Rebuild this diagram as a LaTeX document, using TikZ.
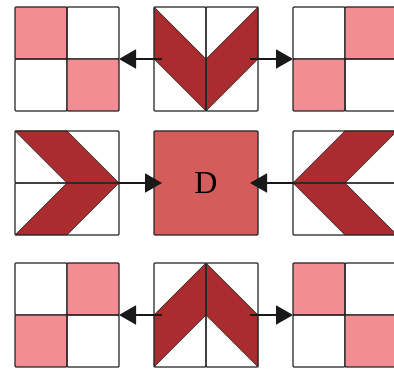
\documentclass[tikz,border=0pt]{standalone}
\usepackage{fontspec}
\setmainfont{Liberation Serif}
\usetikzlibrary{arrows.meta}
\definecolor{lpink}{RGB}{242,141,147}
\definecolor{dred}{RGB}{170,44,46}
\definecolor{dfill}{RGB}{212,92,91}
\begin{document}
\begin{tikzpicture}[x=1pt,y=-1pt]
					\tikzstyle{cell}=[rectangle,draw=black!85,line width=1.2pt,rounded corners=1pt,inner sep=0pt,outer sep=0pt,minimum width=52pt,minimum height=52pt]
					\tikzstyle{tall}=[cell,minimum height=104pt]
					\tikzstyle{wide}=[cell,minimum width=104pt]
					\tikzstyle{band}=[fill=dred,draw=black!80,line width=0.5pt]
					\tikzstyle{arr}=[draw=black!90,line width=1.6pt,-{Triangle[length=17pt,width=19pt]}]
					\useasboundingbox (0,0) rectangle (394,371);
					% chevron bands
					\draw[band] (154,7) -- (206,59) -- (206,111) -- (154,59) -- cycle;
					\draw[band] (258,7) -- (206,59) -- (206,111) -- (258,59) -- cycle;
					\draw[band] (15,131) -- (67,131) -- (119,183) -- (67,183) -- cycle;
					\draw[band] (67,183) -- (119,183) -- (67,235) -- (15,235) -- cycle;
					\draw[band] (345,131) -- (397,131) -- (345,183) -- (293,183) -- cycle;
					\draw[band] (293,183) -- (345,183) -- (397,235) -- (345,235) -- cycle;
					\draw[band] (154,315) -- (206,263) -- (206,315) -- (154,367) -- cycle;
					\draw[band] (258,315) -- (206,263) -- (206,315) -- (258,367) -- cycle;
					% top row
					\node[cell,fill=lpink] (1) at (41,33) {};
					\node[cell] (2) at (93,33) {};
					\node[cell] (3) at (41,85) {};
					\node[cell,fill=lpink] (4) at (93,85) {};
					\node[tall] (5) at (180,59) {};
					\node[tall] (6) at (232,59) {};
					\node[cell] (7) at (319,33) {};
					\node[cell,fill=lpink] (8) at (371,33) {};
					\node[cell,fill=lpink] (9) at (319,85) {};
					\node[cell] (10) at (371,85) {};
					% middle row
					\node[wide] (11) at (67,157) {};
					\node[wide] (12) at (67,209) {};
					\node[cell,fill=dfill,minimum width=104pt,minimum height=104pt,font=\fontsize{32}{32}\selectfont] (13) at (206,183) {D};
					\node[wide] (14) at (345,157) {};
					\node[wide] (15) at (345,209) {};
					% bottom row
					\node[cell] (16) at (41,289) {};
					\node[cell,fill=lpink] (17) at (93,289) {};
					\node[cell,fill=lpink] (18) at (41,341) {};
					\node[cell] (19) at (93,341) {};
					\node[tall] (20) at (180,315) {};
					\node[tall] (21) at (232,315) {};
					\node[cell,fill=lpink] (22) at (319,289) {};
					\node[cell] (23) at (371,289) {};
					\node[cell] (24) at (319,341) {};
					\node[cell,fill=lpink] (25) at (371,341) {};
					% arrows
					\coordinate (a1) at ([xshift=8pt]5.west);
					\coordinate (a2) at ([xshift=-8pt]6.east);
					\coordinate (a3) at ([xshift=8pt]13.west);
					\coordinate (a4) at ([xshift=-8pt]13.east);
					\coordinate (a5) at ([xshift=8pt]20.west);
					\coordinate (a6) at ([xshift=-8pt]21.east);
					\draw[arr] (a1) -- (2.south east);
					\draw[arr] (a2) -- (7.south west);
					\draw[arr] (11.south east) -- (a3);
					\draw[arr] (14.south west) -- (a4);
					\draw[arr] (a5) -- (17.south east);
					\draw[arr] (a6) -- (22.south west);
\end{tikzpicture}
\end{document}
